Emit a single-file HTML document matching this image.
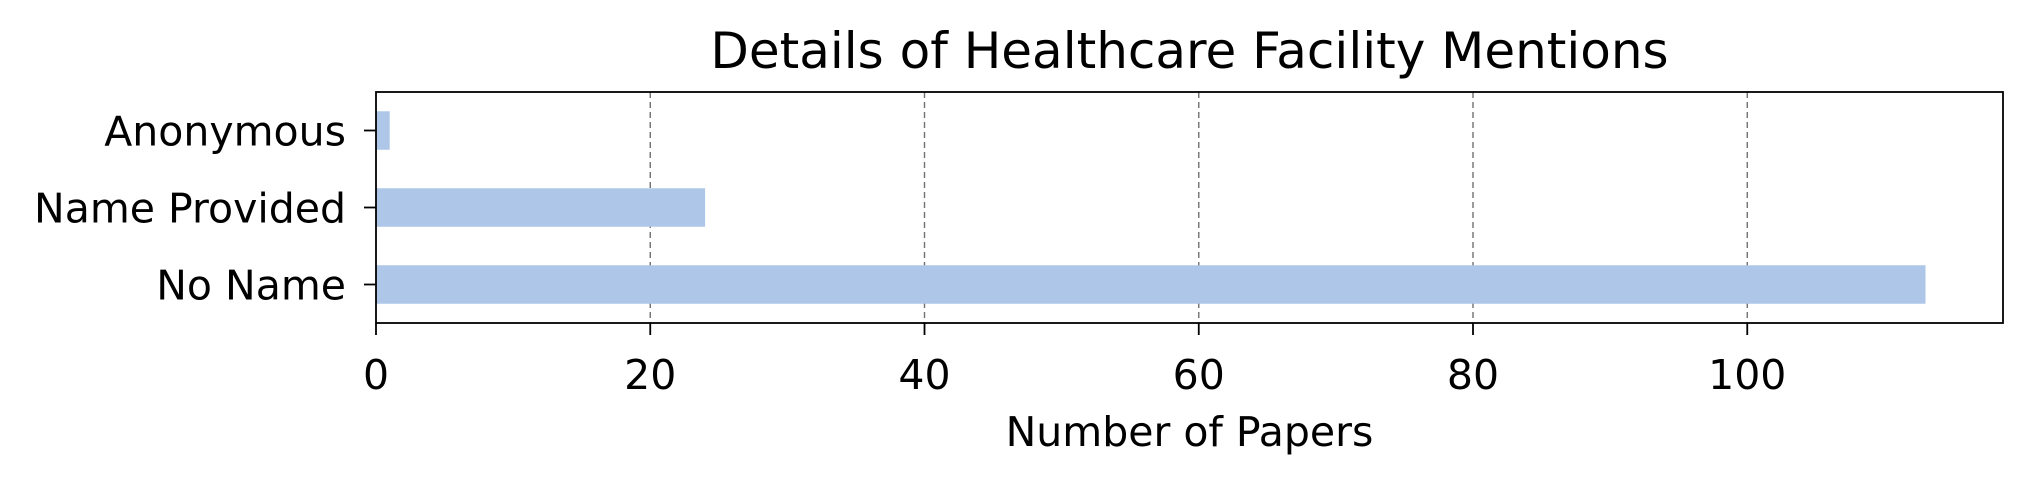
<!DOCTYPE html>
<html><head><meta charset="utf-8"><style>
body{margin:0;background:#fff}
svg text{font-family:"DejaVu Sans","Liberation Sans",sans-serif;fill:#000}
</style></head><body>
<svg id="c" width="2033" height="479" xmlns="http://www.w3.org/2000/svg"></svg>
<script>
const categories = ["No Name", "Name Provided", "Anonymous"];
const values = [113, 24, 1];
const xTicks = [0, 20, 40, 60, 80, 100];
const L=376, R=2003, T=92, B=323, xmax=118.65, ymin=-0.5, ymax=2.5;
const X=v=>L+(v/xmax)*(R-L);
const Y=v=>B-(v-ymin)/(ymax-ymin)*(B-T);
const svg=document.getElementById('c');
const NS='http://www.w3.org/2000/svg';
function mk(tag,attrs,txt){const e=document.createElementNS(NS,tag);for(const k in attrs)e.setAttribute(k,attrs[k]);if(txt!==undefined)e.textContent=txt;svg.appendChild(e);return e;}
xTicks.forEach(t=>{
  if(t>0){const g=mk('line',{x1:X(t),x2:X(t),y1:T,y2:B,stroke:'#707070','stroke-width':1.4,'stroke-dasharray':'6,4'});
  
  }
  const tk=mk('line',{x1:X(t),x2:X(t),y1:B,y2:B+12,stroke:'#000','stroke-width':1.8});
  
  
  const lb=mk('text',{x:X(t),y:389,'font-size':41,'text-anchor':'middle'},String(t));
  
  
});
categories.forEach((c,i)=>{
  const h=(Y(0)-Y(0.5));
  const r=mk('rect',{x:X(0),y:Y(i+0.25),width:X(values[i])-X(0),height:h,fill:'#aec7e8'});
  
  
  const tk=mk('line',{x1:L-12,x2:L,y1:Y(i),y2:Y(i),stroke:'#000','stroke-width':1.8});
  
  
  const lb=mk('text',{x:346,y:Y(i)+15,'font-size':41,'text-anchor':'end'},c);
  
  
});
const f=mk('rect',{x:L,y:T,width:R-L,height:B-T,fill:'none',stroke:'#000','stroke-width':1.8});


const ti=mk('text',{x:(L+R)/2,y:68,'font-size':50,'text-anchor':'middle'},'Details of Healthcare Facility Mentions');


const xl=mk('text',{x:(L+R)/2,y:446,'font-size':41,'text-anchor':'middle'},'Number of Papers');


</script>
</body></html>
